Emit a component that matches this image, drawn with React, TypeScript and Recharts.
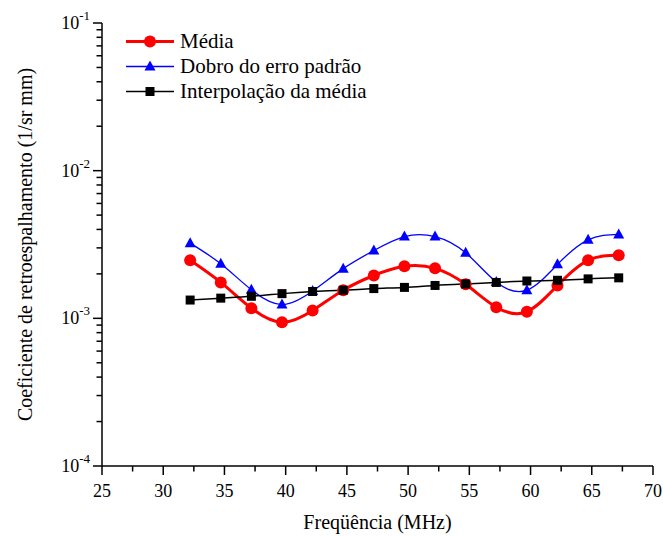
import React from 'react';
import { LineChart, Line, XAxis, YAxis, Legend } from 'recharts';

// frequencies (MHz)
const freqs = [32.2, 34.7, 37.2, 39.7, 42.2, 44.7, 47.2, 49.7, 52.2, 54.7, 57.2, 59.7, 62.2, 64.7, 67.2];
// backscatter coefficient (1/sr mm)
const media = [2.47e-3, 1.75e-3, 1.17e-3, 9.4e-4, 1.13e-3, 1.55e-3, 1.95e-3, 2.25e-3, 2.18e-3, 1.7e-3, 1.19e-3, 1.11e-3, 1.67e-3, 2.47e-3, 2.67e-3];
const dobro = [3.23e-3, 2.34e-3, 1.56e-3, 1.24e-3, 1.53e-3, 2.17e-3, 2.88e-3, 3.58e-3, 3.58e-3, 2.78e-3, 1.76e-3, 1.55e-3, 2.32e-3, 3.4e-3, 3.7e-3];
const interp = [1.33e-3, 1.37e-3, 1.41e-3, 1.47e-3, 1.52e-3, 1.55e-3, 1.59e-3, 1.62e-3, 1.67e-3, 1.71e-3, 1.75e-3, 1.79e-3, 1.81e-3, 1.85e-3, 1.88e-3];

const xTicks = [25, 27.5, 30, 32.5, 35, 37.5, 40, 42.5, 45, 47.5, 50, 52.5, 55, 57.5, 60, 62.5, 65, 67.5, 70];
const yDecades = [1e-4, 1e-3, 1e-2, 1e-1];
const yTicks = yDecades.flatMap((d, i) =>
  i === yDecades.length - 1 ? [d] : [1, 2, 3, 4, 5, 6, 7, 8, 9].map((m) => m * d)
);

const seriesOrder = ['media', 'dobro', 'interp'];

const data = freqs.map((f, i) => ({ f, media: media[i], dobro: dobro[i], interp: interp[i] }));

const FONT = "'Liberation Serif', 'Times New Roman', 'DejaVu Serif', serif";

const XTick = (props: any) => {
  const { x, y, payload } = props;
  const major = payload.value % 5 === 0;
  return (
    <g>
      <line x1={x} x2={x} y1={y} y2={y + (major ? 9 : 5.5)} stroke="#000" strokeWidth={1.5} />
      {major && (
        <text x={x} y={y + 31} textAnchor="middle" style={{ fontFamily: FONT, fontSize: 18 }} fill="#000">
          {payload.value}
        </text>
      )}
    </g>
  );
};

const YTick = (props: any) => {
  const { x, y, payload } = props;
  const exp = Math.log10(payload.value);
  const major = Math.abs(exp - Math.round(exp)) < 1e-6;
  return (
    <g>
      <line x1={x - (major ? 9 : 5.5)} x2={x} y1={y} y2={y} stroke="#000" strokeWidth={1.5} />
      {major && (
        <text x={x - 12} y={y + 6} textAnchor="end" style={{ fontFamily: FONT, fontSize: 18 }} fill="#000">
          <tspan>10</tspan>
          <tspan dy={-9} style={{ fontSize: 13 }}>{Math.round(exp)}</tspan>
        </text>
      )}
    </g>
  );
};

const Circle = (props: any) => <circle key={props.index} cx={props.cx} cy={props.cy} r={6} fill="#ff0000" />;
const Triangle = (props: any) => {
  const { cx, cy, index } = props;
  return <polygon key={index} points={`${cx},${cy - 6} ${cx - 5.5},${cy + 4} ${cx + 5.5},${cy + 4}`} fill="#0000ff" />;
};
const Square = (props: any) => <rect key={props.index} x={props.cx - 4.5} y={props.cy - 4.5} width={9} height={9} fill="#000" />;

const markers: Record<string, any> = { media: Circle, dobro: Triangle, interp: Square };
const widths: Record<string, number> = { media: 3, dobro: 1.3, interp: 1.5 };

const LegendBox = ({ payload }: any) => {
  const items = [...(payload || [])].sort(
    (a: any, b: any) => seriesOrder.indexOf(a.dataKey) - seriesOrder.indexOf(b.dataKey)
  );
  return (
    <div style={{ fontFamily: FONT, fontSize: 21, color: '#000' }}>
      {items.map((p: any) => {
        const M = markers[p.dataKey];
        return (
          <div key={p.dataKey} style={{ display: 'flex', alignItems: 'center', height: 25 }}>
            <svg width={55} height={25}>
              <line x1={1} x2={49} y1={12.5} y2={12.5} stroke={p.color} strokeWidth={widths[p.dataKey]} />
              <M cx={25} cy={12.5} index={0} />
            </svg>
            <span style={{ whiteSpace: 'nowrap' }}>{p.value}</span>
          </div>
        );
      })}
    </div>
  );
};

export default function App() {
  return (
    <div style={{ position: 'absolute', left: 0, top: 0, background: '#fff', fontFamily: FONT }}>
      <LineChart width={663} height={536} data={data} margin={{ top: 23, right: 10, left: 0, bottom: 0 }}>
        <XAxis
          dataKey="f"
          type="number"
          domain={[25, 70]}
          ticks={xTicks}
          interval={0}
          tick={<XTick />}
          tickSize={0}
          tickMargin={0}
          tickLine={false}
          height={70}
          axisLine={{ stroke: '#000', strokeWidth: 1.5 }}
          label={{ value: 'Freqüência (MHz)', position: 'insideBottom', offset: 7, style: { fontFamily: FONT, fontSize: 20 }, fill: '#000' }}
        />
        <YAxis
          type="number"
          scale="log"
          domain={[1e-4, 1e-1]}
          ticks={yTicks}
          interval={0}
          allowDataOverflow
          tick={<YTick />}
          tickSize={0}
          tickMargin={0}
          tickLine={false}
          width={102}
          axisLine={{ stroke: '#000', strokeWidth: 1.5 }}
          label={{
            value: 'Coeficiente de retroespalhamento (1/sr mm)',
            angle: -90,
            position: 'insideLeft',
            offset: 25,
            style: { textAnchor: 'middle', fontFamily: FONT, fontSize: 20 },
            fill: '#000',
          }}
        />
        <Legend
          layout="vertical"
          align="center"
          verticalAlign="middle"
          content={<LegendBox />}
          wrapperStyle={{ position: 'absolute', left: 125, top: 29, width: 280 }}
        />
        <Line type="natural" dataKey="media" name="Média" stroke="#ff0000" strokeWidth={3} dot={Circle} activeDot={false} isAnimationActive={false} />
        <Line type="natural" dataKey="dobro" name="Dobro do erro padrão" stroke="#0000ff" strokeWidth={1.3} dot={Triangle} activeDot={false} isAnimationActive={false} />
        <Line type="natural" dataKey="interp" name="Interpolação da média" stroke="#000000" strokeWidth={1.5} dot={Square} activeDot={false} isAnimationActive={false} />
      </LineChart>
    </div>
  );
}
